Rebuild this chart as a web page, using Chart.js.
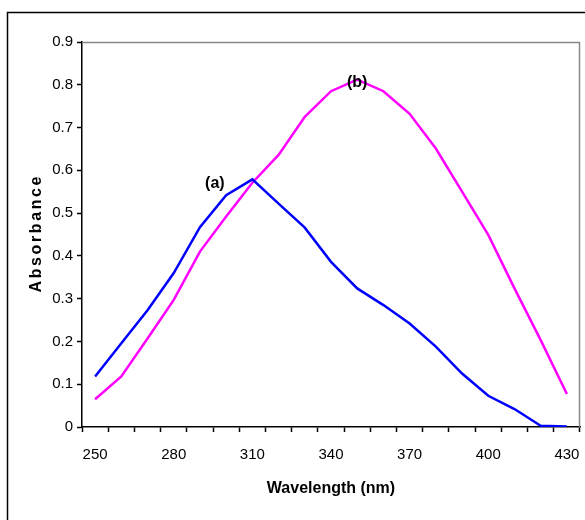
<!DOCTYPE html>
<html><head><meta charset="utf-8">
<script src="https://cdn.jsdelivr.net/npm/chart.js@4/dist/chart.umd.min.js"></script>
<style>html,body{margin:0;padding:0;background:#fff}#wrap{width:585px;height:520px;position:relative}</style>
</head><body><div id="wrap"><canvas id="c" width="585" height="520"></canvas></div>
<script>
const wavelengths = [250,260,270,280,290,300,310,320,330,340,350,360,370,380,390,400,410,420,430];
const seriesA = [0.118,0.196,0.273,0.36,0.467,0.542,0.579,0.522,0.466,0.386,0.324,0.285,0.242,0.188,0.125,0.073,0.042,0.003,0.001];
const seriesB = [0.065,0.118,0.207,0.297,0.41,0.492,0.571,0.636,0.725,0.785,0.812,0.785,0.732,0.651,0.55,0.449,0.324,0.203,0.077];
const shownXLabels = ["250","280","310","340","370","400","430"];
const yTickLabels = ["0","0.1","0.2","0.3","0.4","0.5","0.6","0.7","0.8","0.9"];
const curveNotes = [{text:"(a)", x:4.57, y:0.568}, {text:"(b)", x:10, y:0.806}];
const xTitle = "Wavelength (nm)";
const yTitle = "Absorbance";

const FONT = "'Liberation Sans', Arial, sans-serif";
const TICKFONT = "'Liberation Sans Narrow', 'Liberation Sans', Arial, sans-serif";

const decor = {
  id: 'decor',
  beforeDraw(chart) {
    const ctx = chart.ctx;
    ctx.save();
    ctx.fillStyle = '#fff';
    ctx.fillRect(0, 0, chart.width, chart.height);
    ctx.strokeStyle = '#000';
    ctx.lineWidth = 1.5;
    ctx.beginPath();
    ctx.moveTo(7.5, chart.height + 5);
    ctx.lineTo(7.5, 12.5);
    ctx.lineTo(chart.width + 5, 12.5);
    ctx.stroke();
    ctx.restore();
  },
  beforeDatasetsDraw(chart) {
    const a = chart.chartArea, ctx = chart.ctx;
    ctx.save();
    ctx.strokeStyle = '#888';
    ctx.lineWidth = 1.5;
    ctx.beginPath();
    ctx.moveTo(a.left, a.top + 0.5);
    ctx.lineTo(a.right - 0.5, a.top + 0.5);
    ctx.lineTo(a.right - 0.5, a.bottom);
    ctx.stroke();
    ctx.restore();
  },
  afterDraw(chart) {
    const ctx = chart.ctx, a = chart.chartArea;
    const xs = chart.scales.x, ys = chart.scales.y;
    ctx.save();
    ctx.fillStyle = '#000';
    ctx.font = "bold 16px " + FONT;
    ctx.textAlign = 'center';
    ctx.textBaseline = 'middle';
    curveNotes.forEach(n => {
      ctx.fillText(n.text, xs.getPixelForValue(n.x), ys.getPixelForValue(n.y));
    });
    ctx.fillText(xTitle, (a.left + a.right) / 2, a.bottom + 62);
    ctx.translate(37, (a.top + a.bottom) / 2);
    ctx.rotate(-Math.PI / 2);
    ctx.letterSpacing = '2.6px';
    ctx.fillText(yTitle, 1.3, 0);
    ctx.restore();
  }
};

new Chart(document.getElementById('c'), {
  type: 'line',
  data: {
    labels: wavelengths.map(String),
    datasets: [
      {label: '(a)', data: seriesA, borderColor: '#0000FF', borderWidth: 2.5, pointRadius: 0, tension: 0, fill: false},
      {label: '(b)', data: seriesB, borderColor: '#FF00FF', borderWidth: 2.5, pointRadius: 0, tension: 0, fill: false}
    ]
  },
  options: {
    responsive: false,
    animation: false,
    devicePixelRatio: 1,
    layout: {padding: {top: 42, right: 5, left: 0, bottom: 0}},
    plugins: {legend: {display: false}, tooltip: {enabled: false}},
    scales: {
      x: {
        type: 'category',
        offset: true,
        grid: {offset: true, drawOnChartArea: false, drawTicks: true, tickLength: 5, color: '#000', tickWidth: 1.5},
        border: {display: true, color: '#000', width: 1.5},
        ticks: {
          autoSkip: false, maxRotation: 0, padding: 14,
          color: '#000', font: {family: TICKFONT, size: 15},
          callback: function(v, i) { const l = wavelengths[i].toString(); return shownXLabels.includes(l) ? l : ''; }
        },
        afterFit(s) { s.height = 93; s.paddingLeft = 0; s.paddingRight = 0; }
      },
      y: {
        min: 0, max: 0.9,
        grid: {drawOnChartArea: false, drawTicks: true, tickLength: 5, color: '#000', tickWidth: 1.5},
        border: {display: true, color: '#000', width: 1.5},
        ticks: {
          stepSize: 0.1, padding: 4, color: '#000', font: {family: TICKFONT, size: 15},
          callback: function(v, i) { return yTickLabels[i]; }
        },
        afterFit(s) { s.width = 82; s.paddingTop = 0; s.paddingBottom = 0; }
      }
    }
  },
  plugins: [decor]
});
</script></body></html>
